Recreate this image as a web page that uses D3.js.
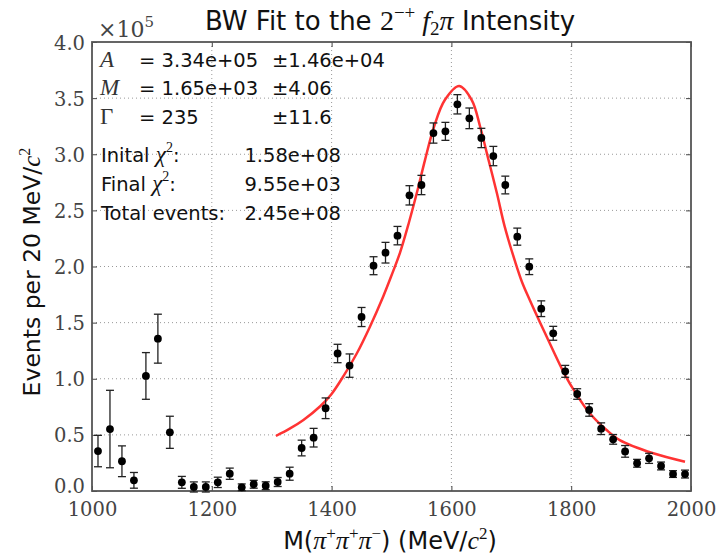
<!DOCTYPE html>
<html><head><meta charset="utf-8">
<script src="https://cdn.jsdelivr.net/npm/d3@7"></script>
<style>body{margin:0;background:#fff}svg{display:block}</style>
</head><body>
<svg id="c" width="719" height="555"></svg>
<script>
// data (values in units of 1e5 events)
const massBins = [1010,1030,1050,1070,1090,1110,1130,1150,1170,1190,1210,1230,1250,1270,1290,1310,1330,1350,1370,1390,1410,1430,1450,1470,1490,1510,1530,1550,1570,1590,1610,1630,1650,1670,1690,1710,1730,1750,1770,1790,1810,1830,1850,1870,1890,1910,1930,1950,1970,1990];
const events = [0.356,0.552,0.265,0.095,1.025,1.357,0.523,0.077,0.036,0.036,0.077,0.154,0.033,0.060,0.047,0.080,0.154,0.383,0.475,0.737,1.225,1.117,1.550,2.007,2.123,2.275,2.634,2.726,3.189,3.204,3.445,3.320,3.145,2.984,2.726,2.266,1.998,1.624,1.405,1.066,0.864,0.722,0.555,0.460,0.353,0.247,0.291,0.223,0.151,0.151];
const errors = [0.140,0.345,0.137,0.070,0.208,0.218,0.143,0.053,0.045,0.045,0.046,0.050,0.030,0.035,0.035,0.040,0.058,0.070,0.083,0.092,0.082,0.104,0.085,0.080,0.092,0.082,0.086,0.086,0.090,0.080,0.086,0.092,0.086,0.086,0.079,0.076,0.070,0.070,0.062,0.053,0.047,0.056,0.052,0.043,0.052,0.035,0.045,0.035,0.030,0.035];
const fitMass = [1307,1330,1353,1381,1400,1420,1442,1464,1486,1500,1514,1529,1543,1556,1571,1589,1613,1634,1648,1662,1676,1689,1706,1718,1731,1756,1790,1806,1831,1859,1881,1937,1990];
const fitValue = [0.49,0.555,0.633,0.755,0.865,1.025,1.225,1.464,1.731,1.92,2.12,2.39,2.67,2.95,3.245,3.483,3.608,3.483,3.245,2.949,2.652,2.355,2.05,1.86,1.70,1.41,1.03,0.885,0.692,0.543,0.454,0.336,0.261];
const xTicks = [1000,1200,1400,1600,1800,2000];
const yTicks = [0.0,0.5,1.0,1.5,2.0,2.5,3.0,3.5,4.0];

const svg = d3.select("#c");
const L=92, R=691, T=42, B=491;
const x = d3.scaleLinear().domain([1000,2000]).range([L,R]);
const y = d3.scaleLinear().domain([0,4.0]).range([B,T]);
const serif = "'DejaVu Serif',serif";
const mathf = "'Liberation Serif','DejaVu Serif',serif";
const sans = "'DejaVu Sans',sans-serif";

// grid
const g = svg.append("g");
g.selectAll(".gx").data(xTicks.slice(1,-1)).join("line")
  .attr("x1",d=>x(d)).attr("x2",d=>x(d)).attr("y1",T).attr("y2",B)
  .attr("stroke","#999").attr("stroke-width",1).attr("stroke-dasharray","1,3");
g.selectAll(".gy").data(yTicks.slice(1,-1)).join("line")
  .attr("y1",d=>y(d)).attr("y2",d=>y(d)).attr("x1",L).attr("x2",R)
  .attr("stroke","#999").attr("stroke-width",1).attr("stroke-dasharray","1,3");

// axes with inward ticks
const ax = svg.append("g").attr("transform",`translate(0,${B})`)
  .call(d3.axisBottom(x).tickValues(xTicks).tickSizeInner(-5).tickSizeOuter(0).tickPadding(11).tickFormat(d3.format("d")));
const ay = svg.append("g").attr("transform",`translate(${L},0)`)
  .call(d3.axisLeft(y).tickValues(yTicks).tickSizeInner(-5).tickSizeOuter(0).tickPadding(7).tickFormat(d3.format(".1f")));
svg.append("g").attr("transform",`translate(0,${T})`)
  .call(d3.axisTop(x).tickValues(xTicks).tickSizeInner(-5).tickSizeOuter(0).tickFormat(""));
svg.append("g").attr("transform",`translate(${R},0)`)
  .call(d3.axisRight(y).tickValues(yTicks).tickSizeInner(-5).tickSizeOuter(0).tickFormat(""));
svg.selectAll(".domain").remove();
svg.selectAll(".tick line").attr("stroke","#444");
[ax,ay].forEach(a=>a.selectAll("text").attr("font-family",serif).attr("font-size",19.5).attr("fill","#444"));
ax.selectAll("text").attr("dy","0.71em");
ay.selectAll("text").attr("dy",d=>d===0?"0.1em":"0.36em");

// frame
svg.append("rect").attr("x",L).attr("y",T).attr("width",R-L).attr("height",B-T)
  .attr("fill","none").attr("stroke","#555").attr("stroke-width",1.8);

// fit curve
svg.append("path").datum(fitMass.map((m,i)=>[m,fitValue[i]]))
  .attr("d",d3.line().x(d=>x(d[0])).y(d=>y(d[1])).curve(d3.curveCatmullRom))
  .attr("fill","none").attr("stroke","#f33").attr("stroke-width",2.5);

// error bars
const pts = massBins.map((m,i)=>({m,v:events[i],e:errors[i]}));
const eb = svg.append("g").attr("stroke","#222").attr("stroke-width",1.3);
eb.selectAll(".v").data(pts).join("line")
  .attr("x1",d=>x(d.m)).attr("x2",d=>x(d.m)).attr("y1",d=>y(d.v-d.e)).attr("y2",d=>y(d.v+d.e));
eb.selectAll(".t").data(pts).join("line")
  .attr("x1",d=>x(d.m)-4).attr("x2",d=>x(d.m)+4).attr("y1",d=>y(d.v+d.e)).attr("y2",d=>y(d.v+d.e));
eb.selectAll(".b").data(pts).join("line")
  .attr("x1",d=>x(d.m)-4).attr("x2",d=>x(d.m)+4).attr("y1",d=>y(d.v-d.e)).attr("y2",d=>y(d.v-d.e));
svg.append("g").selectAll("circle").data(pts).join("circle")
  .attr("cx",d=>x(d.m)).attr("cy",d=>y(d.v)).attr("r",3.9).attr("fill","#000");

// offset text x10^5
const off = svg.append("text").attr("x",L+6).attr("y",T-5).attr("font-family",serif).attr("font-size",22).attr("fill","#444");
off.append("tspan").text("×10");
off.append("tspan").attr("font-size",15).attr("dy",-10).text("5");

// title
const tt = svg.append("text").attr("x",390).attr("y",30).attr("text-anchor","middle").attr("font-size",26).attr("fill","#111").attr("font-family",sans);
tt.append("tspan").text("BW Fit to the ");
tt.append("tspan").attr("font-family",mathf).attr("font-size",28).text("2");
tt.append("tspan").attr("font-family",mathf).attr("font-size",19).attr("dy",-11).text("−+");
tt.append("tspan").attr("font-family",mathf).attr("font-size",28).attr("font-style","italic").attr("dy",11).text(" f");
tt.append("tspan").attr("font-family",mathf).attr("font-size",19).attr("dy",5).text("2");
tt.append("tspan").attr("font-family",mathf).attr("font-size",28).attr("font-style","italic").attr("dy",-5).text("π");
tt.append("tspan").text(" Intensity");

// axis labels
const xl = svg.append("text").attr("x",390).attr("y",549).attr("text-anchor","middle").attr("font-size",24).attr("font-family",sans).attr("fill","#111");
xl.append("tspan").text("M(");
xl.append("tspan").attr("font-family",mathf).attr("font-size",26).attr("font-style","italic").text("π");
xl.append("tspan").attr("font-family",mathf).attr("font-size",17).attr("dy",-10).text("+");
xl.append("tspan").attr("font-family",mathf).attr("font-size",26).attr("font-style","italic").attr("dy",10).text("π");
xl.append("tspan").attr("font-family",mathf).attr("font-size",17).attr("dy",-10).text("+");
xl.append("tspan").attr("font-family",mathf).attr("font-size",26).attr("font-style","italic").attr("dy",10).text("π");
xl.append("tspan").attr("font-family",mathf).attr("font-size",17).attr("dy",-10).text("−");
xl.append("tspan").attr("dy",10).text(") (MeV/");
xl.append("tspan").attr("font-family",mathf).attr("font-size",26).attr("font-style","italic").text("c");
xl.append("tspan").attr("font-family",mathf).attr("font-size",17).attr("dy",-10).text("2");
xl.append("tspan").attr("dy",10).text(")");

const yl = svg.append("text").attr("transform","translate(40,272) rotate(-90)").attr("text-anchor","middle").attr("font-size",23.5).attr("font-family",sans).attr("fill","#111");
yl.append("tspan").text("Events per 20 MeV/");
yl.append("tspan").attr("font-family",mathf).attr("font-size",25).attr("font-style","italic").text("c");
yl.append("tspan").attr("font-family",mathf).attr("font-size",16).attr("dy",-10).text("2");

// parameter box
const box = svg.append("g").attr("font-family",sans).attr("font-size",19.5).attr("fill","#111");
const params = [["A","= 3.34e+05","±1.46e+04",67],["M","= 1.65e+03","±4.06",95],["Γ","= 235","±11.6",124]];
params.forEach(p=>{
  box.append("text").attr("x",100).attr("y",p[3]).attr("font-family",mathf).attr("font-style",p[0]==="Γ"?"normal":"italic").attr("font-size",23).attr("fill","#333").text(p[0]);
  box.append("text").attr("x",139).attr("y",p[3]).text(p[1]);
  box.append("text").attr("x",272).attr("y",p[3]).text(p[2]);
});
const stats = [["Inital ","χ","1.58e+08",162],["Final ","χ","9.55e+03",191],["Total events:","","2.45e+08",220]];
stats.forEach(s=>{
  const t = box.append("text").attr("x",101).attr("y",s[3]);
  t.append("tspan").text(s[0]);
  if(s[1]){
    t.append("tspan").attr("font-family",mathf).attr("font-style","italic").attr("font-size",23).text(s[1]);
    t.append("tspan").attr("font-family",mathf).attr("font-size",14).attr("dy",-10).text("2");
    t.append("tspan").attr("dy",10).text(":");
  }
  box.append("text").attr("x",341).attr("y",s[3]).attr("text-anchor","end").text(s[2]);
});
</script>
</body></html>
